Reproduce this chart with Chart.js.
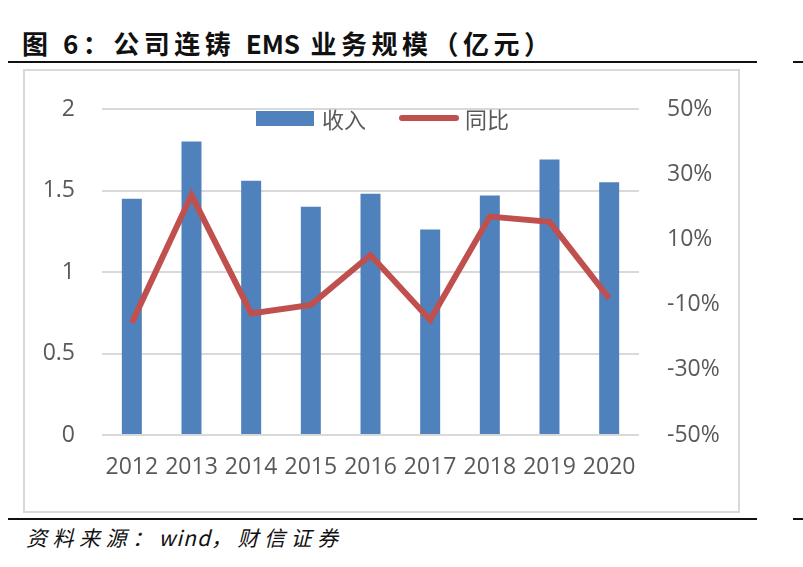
<!DOCTYPE html>
<html>
<head>
<meta charset="utf-8">
<script src="https://cdn.jsdelivr.net/npm/chart.js@4"></script>
<style>
  body { margin: 0; width: 803px; height: 567px; background: #fff; position: relative; overflow: hidden; }
  .title { position: absolute; left: 22px; top: 24px; font: bold 26px "Noto Sans CJK SC", serif; letter-spacing: 4.5px; color: #111; }
  .title .en { letter-spacing: 0; }
  .rule { position: absolute; height: 2px; background: #111; }
  .box { position: absolute; left: 23px; top: 69px; width: 713px; height: 440px; border: 2px solid #d9d9d9; }
  .source { position: absolute; left: 26px; top: 522px; font: italic 21px "Noto Sans CJK SC", serif; letter-spacing: 5.5px; color: #111; }
  .source .en { letter-spacing: 1px; }
  #chartWrap { position: absolute; left: 0; top: 0; width: 803px; height: 567px; }
  .lg { position: absolute; font: 22px "Noto Sans CJK SC", sans-serif; color: #595959; line-height: 24px; }
</style>
</head>
<body>
<div class="title">图 6：公司连铸 <span class="en">EMS</span> 业务规模（亿元）</div>
<div class="rule" style="left:8px; top:61px; width:749px;"></div>
<div class="rule" style="left:793px; top:61px; width:10px;"></div>
<div class="box"></div>
<div class="rule" style="left:8px; top:518px; width:749px;"></div>
<div class="rule" style="left:793px; top:518px; width:10px;"></div>
<div class="source">资料来源：<span class="en">wind</span>，财信证券</div>

<div id="chartWrap"><canvas id="myChart" width="803" height="567"></canvas></div>

<!-- legend -->
<div style="position:absolute; left:256px; top:111px; width:58px; height:15px; background:#4F81BD;"></div>
<div class="lg" style="left:322px; top:106px;">收入</div>
<div style="position:absolute; left:399px; top:115px; width:60px; height:6px; background:#C0504D; border-radius:3px;"></div>
<div class="lg" style="left:465px; top:106px;">同比</div>

<script>
const years = ['2012', '2013', '2014', '2015', '2016', '2017', '2018', '2019', '2020'];
const revenue = [1.45, 1.80, 1.56, 1.40, 1.48, 1.26, 1.47, 1.69, 1.55];
const yoy = [-0.156, 0.236, -0.127, -0.101, 0.052, -0.147, 0.170, 0.154, -0.081];

document.addEventListener('DOMContentLoaded', () => {
    const ctx = document.getElementById('myChart').getContext('2d');
    const tickFont = { family: '"Open Sans", sans-serif', size: 23 };
    new Chart(ctx, {
        type: 'bar',
        data: {
            labels: years,
            datasets: [{
                type: 'line',
                label: '同比',
                data: yoy,
                yAxisID: 'y1',
                borderColor: '#C0504D',
                borderWidth: 6,
                pointRadius: 0,
                tension: 0,
                order: 0
            }, {
                label: '收入',
                data: revenue,
                yAxisID: 'y',
                backgroundColor: '#4F81BD',
                categoryPercentage: 1,
                barPercentage: 0.335,
                order: 1
            }]
        },
        options: {
            responsive: false,
            animation: false,
            layout: { padding: { top: 109 } },
            plugins: { legend: { display: false }, tooltip: { enabled: false } },
            scales: {
                x: {
                    grid: { display: false, drawTicks: false },
                    border: { display: false },
                    ticks: { font: tickFont, color: '#595959', padding: 19, maxRotation: 0 },
                    afterFit: axis => { axis.height = 132; }
                },
                y: {
                    position: 'left',
                    min: 0,
                    max: 2,
                    ticks: {
                        stepSize: 0.5,
                        font: tickFont,
                        color: '#595959',
                        padding: 27,
                        callback: v => String(Math.round(v * 10) / 10)
                    },
                    grid: { color: '#D9D9D9', lineWidth: 2, drawTicks: false },
                    border: { display: false },
                    afterFit: axis => { axis.width = 102; }
                },
                y1: {
                    position: 'right',
                    min: -0.5,
                    max: 0.5,
                    ticks: {
                        stepSize: 0.2,
                        font: tickFont,
                        color: '#595959',
                        padding: 28,
                        callback: v => Math.round(v * 100) + '%'
                    },
                    grid: { display: false, drawTicks: false },
                    border: { display: false },
                    afterFit: axis => { axis.width = 164; }
                }
            }
        }
    });
});
</script>
</body>
</html>
